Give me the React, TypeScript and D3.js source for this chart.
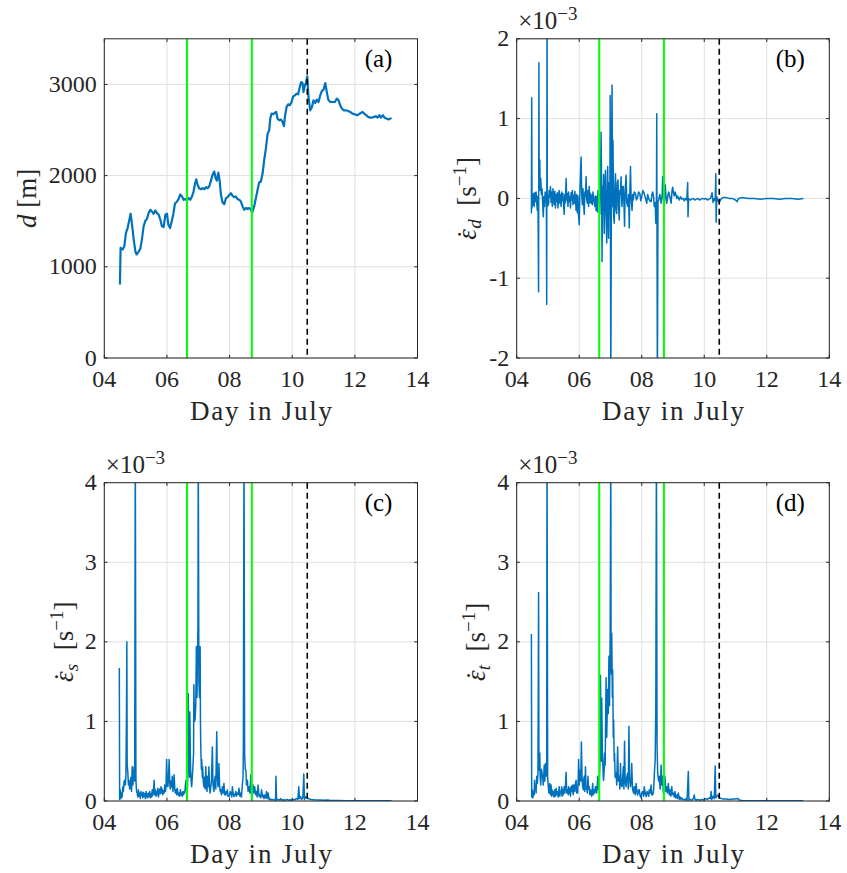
import React from 'react';
import * as d3 from 'd3';

const X_TICKS = [4, 6, 8, 10, 12, 14];
const X_TICK_LABELS = ['04', '06', '08', '10', '12', '14'];
const GREEN_DAYS = [6.64, 8.71];
const BREAK_DAY = 10.48;

const A_TICKS = [0, 1000, 2000, 3000];
const B_TICKS = [-2, -1, 0, 1, 2];
const B_TICK_LABELS = ['-2', '-1', '0', '1', '2'];
const C_TICKS = [0, 1, 2, 3, 4];

// (a) distance d [m]
const distA: [number, number][] = [[4.50,807],[4.52,1207],[4.585,1190],[4.64,1225],[4.69,1370],[4.745,1425],[4.80,1516],[4.84,1582],[4.88,1480],[4.94,1298],[4.99,1171],[5.03,1135],[5.085,1160],[5.15,1196],[5.20,1298],[5.255,1444],[5.31,1505],[5.36,1524],[5.415,1589],[5.47,1625],[5.52,1607],[5.575,1582],[5.63,1618],[5.68,1589],[5.735,1571],[5.79,1516],[5.84,1444],[5.895,1436],[5.95,1571],[6.00,1582],[6.045,1462],[6.10,1425],[6.15,1498],[6.20,1571],[6.255,1691],[6.32,1716],[6.37,1742],[6.425,1793],[6.48,1771],[6.53,1735],[6.585,1742],[6.64,1727],[6.69,1753],[6.745,1735],[6.80,1771],[6.85,1825],[6.895,1909],[6.935,1960],[6.98,1898],[7.03,1862],[7.085,1851],[7.14,1862],[7.19,1851],[7.245,1873],[7.30,1862],[7.35,1880],[7.405,1945],[7.455,2007],[7.51,2044],[7.555,1971],[7.595,1945],[7.64,2033],[7.68,1953],[7.725,1789],[7.775,1705],[7.83,1687],[7.885,1753],[7.935,1764],[7.99,1789],[8.045,1807],[8.095,1778],[8.15,1764],[8.20,1771],[8.255,1742],[8.31,1735],[8.36,1716],[8.415,1662],[8.47,1625],[8.52,1644],[8.575,1633],[8.63,1644],[8.68,1625],[8.725,1596],[8.785,1662],[8.84,1753],[8.895,1844],[8.945,1924],[9.00,1935],[9.055,2025],[9.105,2171],[9.16,2298],[9.215,2462],[9.265,2498],[9.30,2625],[9.34,2680],[9.395,2673],[9.445,2687],[9.49,2698],[9.53,2625],[9.585,2607],[9.64,2615],[9.69,2589],[9.735,2542],[9.775,2662],[9.82,2753],[9.87,2782],[9.925,2771],[9.98,2807],[10.03,2869],[10.085,2880],[10.14,2898],[10.19,2891],[10.245,2978],[10.285,3025],[10.33,3015],[10.36,2916],[10.405,2989],[10.435,3015],[10.48,3087],[10.52,2862],[10.575,2716],[10.63,2753],[10.68,2825],[10.735,2796],[10.785,2833],[10.84,2807],[10.895,2880],[10.945,2927],[11.00,2942],[11.055,3015],[11.095,2935],[11.15,2833],[11.215,2807],[11.285,2807],[11.36,2807],[11.425,2844],[11.48,2825],[11.53,2771],[11.585,2735],[11.64,2716],[11.715,2716],[11.785,2709],[11.85,2698],[11.925,2680],[12.00,2673],[12.065,2662],[12.13,2673],[12.19,2687],[12.245,2698],[12.30,2680],[12.36,2662],[12.425,2644],[12.49,2636],[12.555,2636],[12.615,2644],[12.67,2651],[12.725,2636],[12.785,2662],[12.83,2636],[12.895,2662],[12.945,2636],[13.01,2625],[13.075,2615],[13.13,2625],[13.17,2633]];

// (b) strain rate eps_d [x1e-3 s^-1]
const rateD: [number, number][] = [[4.47,-0.19],[4.48,1.26],[4.49,-0.12],[4.50,0.04],[4.52,-0.08],[4.54,0.06],[4.56,-0.10],[4.58,0.07],[4.60,-0.04],[4.62,0.08],[4.64,-0.06],[4.66,-0.15],[4.68,0.03],[4.70,-1.17],[4.71,1.70],[4.72,0.20],[4.74,0.48],[4.75,0.10],[4.77,0.25],[4.79,0.05],[4.81,0.12],[4.83,-0.05],[4.85,-0.23],[4.87,0.02],[4.89,-0.10],[4.91,0.08],[4.93,0.03],[4.95,-0.06],[4.96,-1.33],[4.97,2.60],[4.98,-0.10],[5.00,0.04],[5.02,-0.08],[5.04,0.10],[5.06,0.02],[5.08,0.15],[5.10,-0.05],[5.12,0.08],[5.14,-0.10],[5.16,0.12],[5.18,0.02],[5.20,-0.08],[5.22,0.09],[5.24,-0.12],[5.26,0.05],[5.28,-0.04],[5.30,0.07],[5.32,-0.12],[5.34,0.03],[5.36,0.10],[5.38,-0.06],[5.40,0.05],[5.42,-0.10],[5.44,0.08],[5.46,-0.03],[5.48,0.06],[5.50,-0.08],[5.52,-0.20],[5.54,0.05],[5.56,-0.05],[5.58,0.25],[5.60,-0.02],[5.62,0.06],[5.64,-0.10],[5.66,0.08],[5.68,-0.04],[5.70,0.02],[5.72,-0.12],[5.74,0.07],[5.76,-0.02],[5.78,0.10],[5.80,-0.08],[5.82,0.04],[5.84,-0.06],[5.86,0.09],[5.88,-0.02],[5.90,-0.15],[5.92,0.05],[5.94,-0.18],[5.96,0.03],[5.98,-0.22],[6.00,-0.33],[6.02,0.05],[6.04,0.30],[6.06,0.52],[6.08,0.05],[6.10,-0.08],[6.12,0.12],[6.14,-0.05],[6.16,-0.20],[6.18,0.08],[6.20,0.02],[6.22,0.27],[6.24,-0.02],[6.26,-0.06],[6.28,0.10],[6.30,-0.10],[6.32,0.15],[6.34,-0.05],[6.36,0.06],[6.38,-0.06],[6.40,0.04],[6.42,-0.08],[6.44,0.08],[6.46,0.02],[6.48,-0.05],[6.50,-0.10],[6.52,0.03],[6.54,-0.15],[6.56,0.02],[6.58,-0.17],[6.60,0.10],[6.62,-0.05],[6.64,0.05],[6.66,-0.20],[6.68,0.20],[6.70,0.83],[6.72,-0.10],[6.73,-0.79],[6.75,0.15],[6.77,-0.05],[6.78,0.30],[6.80,-0.44],[6.82,0.10],[6.84,0.35],[6.86,-0.20],[6.88,-0.56],[6.90,0.15],[6.91,0.40],[6.93,-0.30],[6.94,-0.50],[6.96,0.20],[6.98,-0.20],[6.99,1.29],[7.00,-0.30],[7.01,-2.40],[7.03,0.20],[7.05,1.42],[7.07,-0.10],[7.08,0.73],[7.10,-0.20],[7.12,-0.31],[7.14,0.10],[7.16,0.31],[7.18,-0.15],[7.20,-0.19],[7.22,0.20],[7.24,0.23],[7.26,-0.10],[7.28,-0.27],[7.30,0.10],[7.32,0.05],[7.34,0.27],[7.36,-0.05],[7.37,-0.10],[7.39,0.15],[7.41,0.15],[7.43,-0.05],[7.45,-0.35],[7.47,0.10],[7.50,0.29],[7.52,-0.05],[7.55,-0.10],[7.58,0.05],[7.60,-0.37],[7.62,0.10],[7.64,0.40],[7.66,0.00],[7.69,-0.15],[7.71,0.05],[7.73,-0.02],[7.76,0.08],[7.80,0.06],[7.83,-0.02],[7.87,0.02],[7.90,0.08],[7.94,0.06],[7.97,-0.03],[8.01,0.04],[8.04,0.10],[8.08,0.06],[8.12,0.00],[8.16,-0.06],[8.19,0.05],[8.22,0.00],[8.26,-0.03],[8.30,-0.04],[8.33,0.06],[8.35,0.08],[8.38,0.02],[8.40,-0.10],[8.43,-0.05],[8.45,-0.31],[8.47,-0.10],[8.48,1.06],[8.50,-2.40],[8.52,-0.05],[8.54,-0.02],[8.58,0.05],[8.62,-0.06],[8.65,0.02],[8.67,0.27],[8.70,-0.02],[8.72,-0.10],[8.75,0.17],[8.77,0.05],[8.80,-0.06],[8.83,0.02],[8.86,0.08],[8.90,0.02],[8.94,-0.06],[8.97,0.10],[8.99,0.14],[9.02,0.06],[9.04,0.03],[9.07,0.08],[9.10,0.04],[9.12,0.00],[9.15,0.03],[9.20,-0.02],[9.24,0.02],[9.28,-0.01],[9.32,0.00],[9.36,-0.03],[9.40,0.00],[9.44,-0.02],[9.47,0.20],[9.48,-0.23],[9.50,0.00],[9.55,-0.02],[9.60,-0.01],[9.65,0.00],[9.70,-0.02],[9.75,-0.01],[9.80,0.00],[9.85,-0.02],[9.90,-0.01],[9.95,0.00],[10.00,-0.01],[10.05,0.00],[10.10,-0.02],[10.15,-0.01],[10.20,0.00],[10.25,0.07],[10.28,-0.05],[10.32,0.00],[10.35,-0.03],[10.37,0.31],[10.38,-0.30],[10.40,0.02],[10.44,-0.03],[10.48,-0.05],[10.52,-0.02],[10.56,0.00],[10.60,0.01],[10.70,0.01],[10.80,0.00],[10.90,0.00],[11.00,-0.02],[11.05,-0.04],[11.10,0.00],[11.20,0.01],[11.40,0.00],[11.60,0.00],[11.80,-0.01],[12.00,0.00],[12.20,0.00],[12.40,-0.01],[12.60,0.00],[12.80,0.00],[13.00,-0.01],[13.17,0.00]];

// (c) shear strain rate eps_s [x1e-3 s^-1]
const rateS: [number, number][] = [[4.48,1.67],[4.49,0.02],[4.51,0.14],[4.53,0.03],[4.55,0.10],[4.57,0.05],[4.59,0.18],[4.61,0.12],[4.63,0.24],[4.65,0.26],[4.67,0.20],[4.69,0.30],[4.71,1.23],[4.72,2.00],[4.73,0.45],[4.75,0.37],[4.77,0.20],[4.79,0.26],[4.81,0.15],[4.83,0.18],[4.85,0.30],[4.87,0.12],[4.89,0.43],[4.91,0.20],[4.93,0.31],[4.95,0.43],[4.97,0.25],[4.99,4.6],[5.01,0.26],[5.03,0.12],[5.05,0.10],[5.07,0.05],[5.09,0.14],[5.11,0.06],[5.13,0.10],[5.15,0.03],[5.17,0.12],[5.19,0.07],[5.21,0.10],[5.23,0.04],[5.25,0.11],[5.27,0.06],[5.29,0.09],[5.31,0.03],[5.33,0.12],[5.35,0.05],[5.37,0.09],[5.39,0.04],[5.41,0.10],[5.43,0.06],[5.45,0.12],[5.47,0.04],[5.49,0.09],[5.51,0.05],[5.53,0.14],[5.55,0.07],[5.57,0.12],[5.59,0.26],[5.61,0.08],[5.63,0.14],[5.65,0.06],[5.67,0.12],[5.69,0.08],[5.71,0.16],[5.73,0.05],[5.75,0.12],[5.77,0.15],[5.79,0.09],[5.81,0.18],[5.83,0.10],[5.85,0.15],[5.87,0.08],[5.89,0.13],[5.91,0.10],[5.93,0.20],[5.95,0.12],[5.97,0.18],[5.99,0.52],[6.01,0.20],[6.03,0.18],[6.05,0.30],[6.07,0.52],[6.09,0.22],[6.11,0.15],[6.13,0.25],[6.15,0.18],[6.17,0.31],[6.19,0.12],[6.21,0.20],[6.23,0.33],[6.25,0.15],[6.27,0.10],[6.29,0.14],[6.31,0.08],[6.33,0.16],[6.35,0.10],[6.37,0.07],[6.39,0.10],[6.41,0.06],[6.43,0.14],[6.45,0.08],[6.47,0.10],[6.49,0.06],[6.51,0.12],[6.53,0.08],[6.55,0.12],[6.57,0.10],[6.59,0.20],[6.61,0.26],[6.63,0.12],[6.65,0.10],[6.67,0.40],[6.68,1.35],[6.70,0.60],[6.72,0.30],[6.73,1.12],[6.75,0.50],[6.76,0.35],[6.78,0.20],[6.79,0.18],[6.81,0.30],[6.83,0.43],[6.85,0.60],[6.86,1.46],[6.88,1.00],[6.90,1.03],[6.92,1.20],[6.94,1.94],[6.96,1.30],[6.97,1.69],[6.99,2.2],[7.00,4.5],[7.02,1.5],[7.04,1.3],[7.06,1.94],[7.07,1.0],[7.08,0.68],[7.10,0.40],[7.11,0.52],[7.13,0.30],[7.14,0.43],[7.16,0.25],[7.18,0.18],[7.20,0.30],[7.22,0.15],[7.24,0.43],[7.26,0.20],[7.28,0.12],[7.29,0.31],[7.31,0.18],[7.33,0.25],[7.34,0.43],[7.36,0.15],[7.38,0.10],[7.40,0.18],[7.42,0.25],[7.45,0.68],[7.47,0.20],[7.48,0.18],[7.50,0.12],[7.52,0.25],[7.54,0.31],[7.56,0.15],[7.59,0.87],[7.61,0.30],[7.63,0.18],[7.65,0.25],[7.66,0.47],[7.68,0.20],[7.70,0.12],[7.72,0.14],[7.74,0.08],[7.77,0.18],[7.79,0.10],[7.82,0.22],[7.84,0.08],[7.86,0.12],[7.88,0.075],[7.90,0.10],[7.93,0.14],[7.95,0.06],[7.98,0.055],[8.00,0.08],[8.02,0.12],[8.04,0.10],[8.07,0.05],[8.09,0.18],[8.11,0.10],[8.14,0.055],[8.17,0.08],[8.20,0.12],[8.22,0.06],[8.25,0.10],[8.28,0.08],[8.30,0.16],[8.33,0.06],[8.36,0.10],[8.38,0.05],[8.41,0.22],[8.43,0.30],[8.44,0.68],[8.46,4.5],[8.48,0.60],[8.50,0.40],[8.52,0.39],[8.54,0.20],[8.57,0.26],[8.59,0.12],[8.62,0.18],[8.65,0.10],[8.68,0.33],[8.70,0.08],[8.71,0.013],[8.73,0.15],[8.75,0.20],[8.77,0.10],[8.80,0.18],[8.83,0.08],[8.86,0.12],[8.88,0.05],[8.91,0.20],[8.94,0.06],[8.96,0.075],[8.99,0.04],[9.02,0.14],[9.05,0.05],[9.07,0.075],[9.10,0.03],[9.12,0.075],[9.15,0.04],[9.18,0.12],[9.20,0.03],[9.23,0.10],[9.26,0.02],[9.28,0.034],[9.31,0.013],[9.35,0.02],[9.40,0.01],[9.44,0.02],[9.47,0.01],[9.48,0.31],[9.50,0.01],[9.55,0.02],[9.60,0.01],[9.63,0.03],[9.67,0.01],[9.72,0.015],[9.78,0.01],[9.83,0.02],[9.88,0.01],[9.93,0.015],[9.98,0.01],[10.03,0.02],[10.08,0.015],[10.13,0.03],[10.18,0.02],[10.21,0.18],[10.23,0.03],[10.27,0.055],[10.30,0.02],[10.34,0.04],[10.37,0.34],[10.39,0.02],[10.42,0.055],[10.45,0.04],[10.49,0.034],[10.55,0.025],[10.60,0.02],[10.70,0.015],[10.80,0.012],[10.90,0.012],[11.00,0.01],[11.10,0.012],[11.20,0.008],[11.30,0.005],[11.50,0.005],[11.70,0.003],[11.90,0.004],[12.10,0.003],[12.30,0.004],[12.50,0.003],[12.70,0.003],[12.90,0.003],[13.17,0.002]];

// (d) total strain rate eps_t [x1e-3 s^-1]
const rateT: [number, number][] = [[4.47,2.10],[4.48,0.05],[4.50,0.14],[4.52,0.04],[4.54,0.12],[4.56,0.08],[4.57,0.26],[4.59,0.14],[4.61,0.18],[4.62,0.10],[4.64,0.31],[4.66,0.22],[4.68,0.35],[4.70,2.62],[4.71,0.70],[4.72,0.39],[4.74,0.60],[4.75,0.30],[4.77,0.20],[4.79,0.40],[4.81,0.35],[4.83,0.31],[4.85,0.20],[4.88,0.45],[4.90,0.25],[4.92,0.47],[4.94,0.31],[4.96,0.45],[4.97,4.6],[4.99,0.30],[5.01,0.18],[5.03,0.10],[5.04,0.10],[5.06,0.22],[5.08,0.08],[5.10,0.20],[5.12,0.06],[5.13,0.14],[5.15,0.08],[5.17,0.12],[5.19,0.05],[5.20,0.075],[5.22,0.14],[5.24,0.06],[5.26,0.16],[5.28,0.08],[5.30,0.12],[5.31,0.10],[5.33,0.05],[5.35,0.14],[5.36,0.18],[5.38,0.06],[5.40,0.12],[5.42,0.10],[5.44,0.18],[5.45,0.06],[5.47,0.14],[5.49,0.08],[5.51,0.15],[5.52,0.18],[5.54,0.10],[5.56,0.20],[5.58,0.36],[5.60,0.10],[5.61,0.14],[5.63,0.14],[5.65,0.08],[5.66,0.18],[5.68,0.10],[5.70,0.16],[5.72,0.06],[5.74,0.18],[5.76,0.12],[5.78,0.20],[5.79,0.14],[5.81,0.08],[5.83,0.20],[5.84,0.20],[5.86,0.12],[5.88,0.22],[5.90,0.26],[5.92,0.10],[5.94,0.16],[5.95,0.10],[5.97,0.30],[5.98,0.52],[6.00,0.20],[6.02,0.38],[6.03,0.39],[6.05,0.25],[6.07,0.74],[6.09,0.30],[6.11,0.18],[6.13,0.14],[6.14,0.26],[6.16,0.31],[6.18,0.12],[6.20,0.43],[6.22,0.15],[6.24,0.18],[6.26,0.10],[6.28,0.31],[6.30,0.15],[6.32,0.18],[6.34,0.08],[6.36,0.14],[6.38,0.10],[6.40,0.06],[6.43,0.22],[6.45,0.08],[6.48,0.14],[6.50,0.10],[6.52,0.18],[6.54,0.18],[6.56,0.10],[6.58,0.20],[6.59,0.31],[6.61,0.15],[6.63,0.25],[6.64,0.22],[6.66,0.45],[6.68,1.58],[6.70,0.80],[6.71,0.50],[6.72,1.29],[6.74,0.60],[6.75,0.52],[6.77,0.30],[6.78,0.26],[6.80,0.40],[6.81,0.60],[6.83,0.45],[6.86,1.55],[6.88,0.80],[6.91,1.40],[6.93,1.10],[6.95,1.82],[6.97,1.20],[6.99,2.09],[7.01,4.5],[7.02,1.60],[7.04,2.11],[7.06,1.30],[7.07,1.65],[7.09,0.80],[7.10,1.02],[7.12,0.50],[7.13,0.60],[7.15,0.30],[7.18,0.35],[7.20,0.20],[7.23,0.68],[7.25,0.25],[7.28,0.31],[7.30,0.15],[7.32,0.47],[7.34,0.20],[7.37,0.18],[7.39,0.30],[7.41,0.43],[7.43,0.15],[7.45,0.75],[7.47,0.25],[7.50,0.18],[7.52,0.30],[7.55,0.35],[7.57,0.15],[7.59,0.94],[7.61,0.30],[7.64,0.18],[7.66,0.25],[7.68,0.47],[7.70,0.20],[7.71,0.14],[7.74,0.10],[7.76,0.18],[7.79,0.08],[7.82,0.22],[7.85,0.10],[7.87,0.075],[7.90,0.14],[7.92,0.14],[7.95,0.06],[7.98,0.04],[8.00,0.10],[8.03,0.12],[8.06,0.06],[8.08,0.18],[8.11,0.10],[8.14,0.055],[8.17,0.12],[8.19,0.10],[8.22,0.06],[8.24,0.14],[8.27,0.10],[8.30,0.20],[8.32,0.08],[8.35,0.075],[8.38,0.14],[8.40,0.31],[8.43,0.52],[8.45,1.2],[8.47,4.5],[8.49,0.70],[8.51,0.35],[8.54,0.25],[8.56,0.31],[8.59,0.15],[8.62,0.45],[8.64,0.20],[8.67,0.31],[8.69,0.10],[8.70,0.14],[8.72,0.20],[8.74,0.31],[8.77,0.12],[8.80,0.18],[8.82,0.10],[8.85,0.22],[8.88,0.08],[8.90,0.14],[8.93,0.06],[8.96,0.18],[8.98,0.08],[9.01,0.10],[9.04,0.05],[9.06,0.12],[9.09,0.04],[9.12,0.075],[9.14,0.03],[9.17,0.10],[9.20,0.02],[9.22,0.055],[9.25,0.02],[9.28,0.04],[9.32,0.015],[9.36,0.02],[9.40,0.01],[9.42,0.03],[9.45,0.01],[9.49,0.37],[9.51,0.01],[9.55,0.02],[9.60,0.01],[9.63,0.02],[9.66,0.04],[9.68,0.075],[9.70,0.02],[9.74,0.013],[9.80,0.02],[9.86,0.01],[9.92,0.02],[9.98,0.012],[10.04,0.03],[10.10,0.02],[10.16,0.04],[10.20,0.03],[10.22,0.12],[10.24,0.02],[10.28,0.06],[10.32,0.03],[10.35,0.44],[10.37,0.04],[10.40,0.055],[10.44,0.075],[10.48,0.04],[10.55,0.03],[10.60,0.025],[10.70,0.025],[10.80,0.02],[10.90,0.025],[11.00,0.025],[11.08,0.03],[11.12,0.012],[11.20,0.005],[11.30,0.004],[11.50,0.004],[11.70,0.003],[11.90,0.004],[12.10,0.003],[12.30,0.004],[12.50,0.003],[12.70,0.003],[12.90,0.002],[13.17,0.002]];

const FONT = "'Liberation Serif', 'Times New Roman', serif";
const AXC = '#262626';
const BLUE = '#0072BD';
const GREEN = '#00FF00';
const GRID = '#dfdfdf';

type PanelProps = {
  id: string;
  left: number; right: number; top: number; bottom: number;
  yDomain: [number, number];
  yTicks: number[];
  yTickLabels: string[];
  data: [number, number][];
  lineWidth: number;
  label: string;
  exponent: boolean;
  yLabel: React.ReactNode;
  yLabelX: number;
};

function Panel(p: PanelProps) {
  const x = d3.scaleLinear().domain([4, 14]).range([p.left, p.right]);
  const y = d3.scaleLinear().domain(p.yDomain).range([p.bottom, p.top]);
  const line = d3.line<[number, number]>().x(d => x(d[0])).y(d => y(d[1]));
  const tl = 3.2;
  const cy = (p.top + p.bottom) / 2;
  return (
    <g>
      <defs>
        <clipPath id={`clip-${p.id}`}>
          <rect x={p.left} y={p.top} width={p.right - p.left} height={p.bottom - p.top} />
        </clipPath>
      </defs>
      <rect x={p.left} y={p.top} width={p.right - p.left} height={p.bottom - p.top} fill="#fff" />
      {X_TICKS.map(t => (
        <line key={`gx${t}`} x1={x(t)} x2={x(t)} y1={p.top} y2={p.bottom} stroke={GRID} strokeWidth={1} />
      ))}
      {p.yTicks.map(t => (
        <line key={`gy${t}`} x1={p.left} x2={p.right} y1={y(t)} y2={y(t)} stroke={GRID} strokeWidth={1} />
      ))}
      <g clipPath={`url(#clip-${p.id})`}>
        <path d={line(p.data) || ''} fill="none" stroke={BLUE} strokeWidth={p.lineWidth} strokeLinejoin="round" />
        {GREEN_DAYS.map(g => (
          <line key={`g${g}`} x1={x(g)} x2={x(g)} y1={p.top} y2={p.bottom} stroke={GREEN} strokeWidth={2} />
        ))}
        <line x1={x(BREAK_DAY)} x2={x(BREAK_DAY)} y1={p.top} y2={p.bottom} stroke="#000" strokeWidth={1.6} strokeDasharray="6,4" />
      </g>
      <rect x={p.left} y={p.top} width={p.right - p.left} height={p.bottom - p.top} fill="none" stroke={AXC} strokeWidth={1} />
      {X_TICKS.map(t => (
        <g key={`tx${t}`}>
          <line x1={x(t)} x2={x(t)} y1={p.bottom} y2={p.bottom - tl} stroke={AXC} strokeWidth={1} />
          <line x1={x(t)} x2={x(t)} y1={p.top} y2={p.top + tl} stroke={AXC} strokeWidth={1} />
        </g>
      ))}
      {p.yTicks.map(t => (
        <g key={`ty${t}`}>
          <line x1={p.left} x2={p.left + tl} y1={y(t)} y2={y(t)} stroke={AXC} strokeWidth={1} />
          <line x1={p.right} x2={p.right - tl} y1={y(t)} y2={y(t)} stroke={AXC} strokeWidth={1} />
        </g>
      ))}
      {X_TICKS.map((t, i) => (
        <text key={`lx${t}`} x={x(t)} y={p.bottom + 29} textAnchor="middle" fontSize={24} fill={AXC} fontFamily={FONT}>
          {X_TICK_LABELS[i]}
        </text>
      ))}
      {p.yTicks.map((t, i) => (
        <text key={`ly${t}`} x={p.left - 7.5} y={y(t) + 7.5} textAnchor="end" fontSize={24} fill={AXC} fontFamily={FONT}>
          {p.yTickLabels[i]}
        </text>
      ))}
      <text x={(p.left + p.right) / 2} y={p.bottom + 62} textAnchor="middle" fontSize={27} fill={AXC} fontFamily={FONT} textLength={142} lengthAdjust="spacing">
        Day in July
      </text>
      <text transform={`translate(${p.yLabelX},${cy}) rotate(-90)`} textAnchor="middle" fontSize={27} fill={AXC} fontFamily={FONT}>
        {p.yLabel}
      </text>
      {p.exponent && (
        <text x={p.left + 1.5} y={p.top - 9.4} fontSize={25} fill={AXC} fontFamily={FONT}>
          ×10<tspan fontSize={19} dy={-9}>−3</tspan>
        </text>
      )}
      <text x={p.right - 39} y={p.top + 28} textAnchor="middle" fontSize={25} fill="#000" fontFamily={FONT}>
        {p.label}
      </text>
    </g>
  );
}

function rateLabel(sub: string) {
  return (
    <>
      <tspan fontStyle="italic">ε</tspan>
      <tspan dx="-0.36em">{'\u02D9'}</tspan>
      <tspan fontStyle="italic" fontSize={19} dx="0.05em" dy={5}>{sub}</tspan>
      <tspan dy={-5}>{'\u2002[s'}</tspan>
      <tspan fontSize={19} dy={-10}>−1</tspan>
      <tspan dy={10}>]</tspan>
    </>
  );
}

export default function App() {
  const L = [104.3, 516.7];
  const R = [417.5, 829.3];
  const T = [38.8, 482.7];
  const B = [358, 801];
  return (
    <svg width={847} height={873} style={{ position: 'absolute', left: 0, top: 0, background: '#fff' }} xmlns="http://www.w3.org/2000/svg">
      <rect width={847} height={873} fill="#fff" />
      <Panel id="a" left={L[0]} right={R[0]} top={T[0]} bottom={B[0]} yDomain={[0, 3500]}
        yTicks={A_TICKS} yTickLabels={A_TICKS.map(String)} data={distA} lineWidth={2.2}
        label="(a)" exponent={false} yLabelX={36}
        yLabel={<><tspan fontStyle="italic">d</tspan>{' [m]'}</>} />
      <Panel id="b" left={L[1]} right={R[1]} top={T[0]} bottom={B[0]} yDomain={[-2, 2]}
        yTicks={B_TICKS} yTickLabels={B_TICK_LABELS} data={rateD} lineWidth={1.5}
        label="(b)" exponent={true} yLabelX={476} yLabel={rateLabel('d')} />
      <Panel id="c" left={L[0]} right={R[0]} top={T[1]} bottom={B[1]} yDomain={[0, 4]}
        yTicks={C_TICKS} yTickLabels={C_TICKS.map(String)} data={rateS} lineWidth={1.5}
        label="(c)" exponent={true} yLabelX={73} yLabel={rateLabel('s')} />
      <Panel id="d" left={L[1]} right={R[1]} top={T[1]} bottom={B[1]} yDomain={[0, 4]}
        yTicks={C_TICKS} yTickLabels={C_TICKS.map(String)} data={rateT} lineWidth={1.5}
        label="(d)" exponent={true} yLabelX={485} yLabel={rateLabel('t')} />
    </svg>
  );
}
